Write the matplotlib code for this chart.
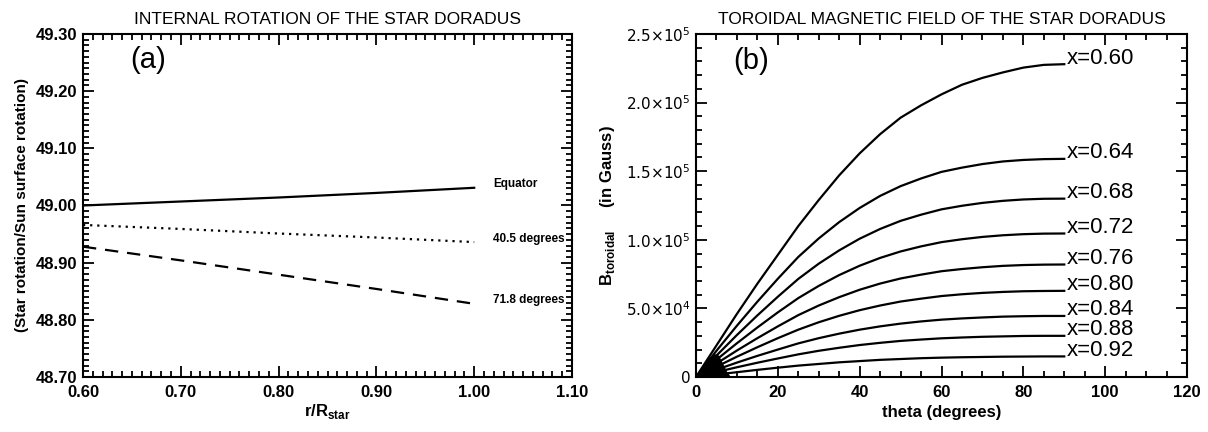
import numpy as np
import matplotlib
matplotlib.use("Agg")
import matplotlib.pyplot as plt
from matplotlib.ticker import MultipleLocator, FormatStrFormatter

# ---------------- data: panel (a) ----------------
r_star = [0.60, 0.70, 0.80, 0.90, 1.00]
rot_equator = [49.000, 49.007, 49.014, 49.022, 49.031]
rot_40_5 = [48.966, 48.959, 48.951, 48.944, 48.936]
rot_71_8 = [48.928, 48.904, 48.879, 48.854, 48.828]
rot_labels = ["Equator", "40.5 degrees", "71.8 degrees"]

# ---------------- data: panel (b) ----------------
theta = [0, 5, 10, 15, 20, 25, 30, 35, 40, 45, 50, 55, 60, 65, 70, 75, 80, 85, 90]
field_labels = ["x=0.60", "x=0.64", "x=0.68", "x=0.72", "x=0.76",
                "x=0.80", "x=0.84", "x=0.88", "x=0.92"]
b_060 = [0, 23e3, 46e3, 68e3, 89e3, 110e3, 129e3, 147e3, 163e3, 177e3, 189e3,
         198e3, 206e3, 213e3, 218e3, 222e3, 225.5e3, 227.5e3, 228e3]
b_064 = [0, 19.1e3, 37.4e3, 54.9e3, 71.6e3, 87.5e3, 101.0e3, 112.9e3, 123.2e3, 132.0e3,
         139.1e3, 144.7e3, 149.5e3, 152.6e3, 155.2e3, 157.1e3, 158.2e3, 158.8e3, 159e3]
b_068 = [0, 15.6e3, 30.6e3, 44.9e3, 58.5e3, 71.5e3, 82.6e3, 92.3e3, 100.8e3, 107.9e3,
         113.8e3, 118.3e3, 122.2e3, 124.8e3, 126.9e3, 128.4e3, 129.4e3, 129.9e3, 130e3]
b_072 = [0, 12.6e3, 24.6e3, 36.1e3, 47.1e3, 57.5e3, 66.4e3, 74.3e3, 81.1e3, 86.8e3,
         91.5e3, 95.2e3, 98.3e3, 100.4e3, 102.1e3, 103.3e3, 104.1e3, 104.5e3, 104.6e3]
b_076 = [0, 9.8e3, 19.3e3, 28.3e3, 36.9e3, 45.1e3, 52.1e3, 58.2e3, 63.6e3, 68.1e3,
         71.8e3, 74.6e3, 77.1e3, 78.7e3, 80.0e3, 81.0e3, 81.6e3, 81.9e3, 82e3]
b_080 = [0, 7.5e3, 14.8e3, 21.7e3, 28.3e3, 34.5e3, 39.9e3, 44.6e3, 48.7e3, 52.1e3,
         55.0e3, 57.1e3, 59.0e3, 60.3e3, 61.3e3, 62.0e3, 62.5e3, 62.7e3, 62.8e3]
b_084 = [0, 5.3e3, 10.5e3, 15.4e3, 20.0e3, 24.5e3, 28.3e3, 31.6e3, 34.5e3, 36.9e3,
         38.9e3, 40.5e3, 41.8e3, 42.7e3, 43.4e3, 44.0e3, 44.3e3, 44.5e3, 44.5e3]
b_088 = [0, 3.6e3, 7.1e3, 10.4e3, 13.5e3, 16.5e3, 19.1e3, 21.3e3, 23.3e3, 24.9e3,
         26.3e3, 27.3e3, 28.2e3, 28.8e3, 29.3e3, 29.6e3, 29.9e3, 30.0e3, 30e3]
b_092 = [0, 1.8e3, 3.5e3, 5.2e3, 6.8e3, 8.3e3, 9.5e3, 10.7e3, 11.6e3, 12.5e3,
         13.1e3, 13.7e3, 14.1e3, 14.4e3, 14.6e3, 14.8e3, 14.9e3, 15.0e3, 15e3]
fan_theta = [0, 1.5, 3, 4.5, 5.5, 6.5, 7.5, 8.5]
fan_top = [0, 8e3, 14e3, 17e3, 16e3, 10e3, 4e3, 0]

field_curves = [b_060, b_064, b_068, b_072, b_076, b_080, b_084, b_088, b_092]

plt.rcParams['font.family'] = ['Liberation Sans', 'DejaVu Sans']
plt.rcParams['mathtext.fontset'] = 'custom'
plt.rcParams['mathtext.rm'] = 'DejaVu Sans'
plt.rcParams['mathtext.it'] = 'DejaVu Sans'
plt.rcParams['mathtext.bf'] = 'Liberation Sans:bold'

fig = plt.figure(figsize=(12.08, 4.32), dpi=100)
ax1 = fig.add_axes([83/1208, 55/432, 489/1208, 343/432])
ax2 = fig.add_axes([696/1208, 55/432, 491/1208, 343/432])

def idl_style(ax):
    for s in ax.spines.values():
        s.set_linewidth(1.5)
    ax.tick_params(which='both', direction='in', top=True, right=True,
                   width=1.3, pad=6)
    ax.tick_params(which='major', length=8)
    ax.tick_params(which='minor', length=4)

# ---------------- panel (a) ----------------
ax1.plot(r_star, rot_equator, color='black', lw=1.6, ls='-')
ax1.plot(r_star, rot_40_5, color='black', lw=1.6, ls=(0, (1, 2.2)))
ax1.plot(r_star, rot_71_8, color='black', lw=1.6, ls=(0, (6, 4)))
for yv, lab in zip([rot_equator[-1], rot_40_5[-1], rot_71_8[-1]], rot_labels):
    ax1.text(1.019, yv + 0.006, lab, fontsize=8.5, fontweight='bold',
             va='center', ha='left')
ax1.set_xlim(0.60, 1.10)
ax1.set_ylim(48.70, 49.30)
ax1.xaxis.set_major_locator(MultipleLocator(0.1))
ax1.xaxis.set_minor_locator(MultipleLocator(0.01))
ax1.yaxis.set_major_locator(MultipleLocator(0.1))
ax1.yaxis.set_minor_locator(MultipleLocator(0.01))
ax1.xaxis.set_major_formatter(FormatStrFormatter('%.2f'))
ax1.yaxis.set_major_formatter(FormatStrFormatter('%.2f'))
idl_style(ax1)
ax1.tick_params(axis='y', pad=4)
for lab in ax1.get_xticklabels() + ax1.get_yticklabels():
    lab.set_fontweight('bold')
    lab.set_fontsize(12)
ax1.set_title("INTERNAL ROTATION OF THE STAR DORADUS", fontsize=12.5, pad=7)
ax1.set_xlabel(r"r/R$_{\mathbf{star}}$", fontsize=12, fontweight='bold', labelpad=1)
ax1.set_ylabel("(Star rotation/Sun surface rotation)", fontsize=11,
               fontweight='bold', labelpad=5)
ax1.text(0.648, 49.255, "(a)", fontsize=21, va='center', ha='left')

# ---------------- panel (b) ----------------
for curve, lab in zip(field_curves, field_labels):
    ax2.plot(theta, curve, color='black', lw=1.6)
    ax2.text(90.6, curve[-1] + 4500, lab, fontsize=16, va='center', ha='left')
ax2.fill_between(fan_theta, 0, fan_top, color='black', lw=0)
ax2.set_xlim(0, 120)
ax2.set_ylim(0, 2.5e5)
ax2.xaxis.set_major_locator(MultipleLocator(20))
ax2.xaxis.set_minor_locator(MultipleLocator(5))
ax2.yaxis.set_minor_locator(MultipleLocator(1e4))
ytick_text = ["0", r"5.0$\times$10$^{4}$", r"1.0$\times$10$^{5}$",
              r"1.5$\times$10$^{5}$", r"2.0$\times$10$^{5}$", r"2.5$\times$10$^{5}$"]
ax2.set_yticks([0, 5e4, 1e5, 1.5e5, 2e5, 2.5e5])
ax2.set_yticklabels(ytick_text)
idl_style(ax2)
ax2.tick_params(axis='y', pad=4)
for lab in ax2.get_xticklabels():
    lab.set_fontweight('bold')
    lab.set_fontsize(12)
for lab in ax2.get_yticklabels():
    lab.set_fontsize(11)
    lab.set_family('DejaVu Sans')
ax2.set_title("TOROIDAL MAGNETIC FIELD OF THE STAR DORADUS", fontsize=12.5, pad=7)
ax2.set_xlabel("theta (degrees)", fontsize=12, fontweight='bold', labelpad=3)
ax2.set_ylabel(r"B$_{\mathbf{toroidal}}$     (in Gauss)", fontsize=12,
               fontweight='bold', labelpad=6)
ax2.text(9, 2.3e5, "(b)", fontsize=21, va='center', ha='left')

fig.savefig("out.png", dpi=100)
